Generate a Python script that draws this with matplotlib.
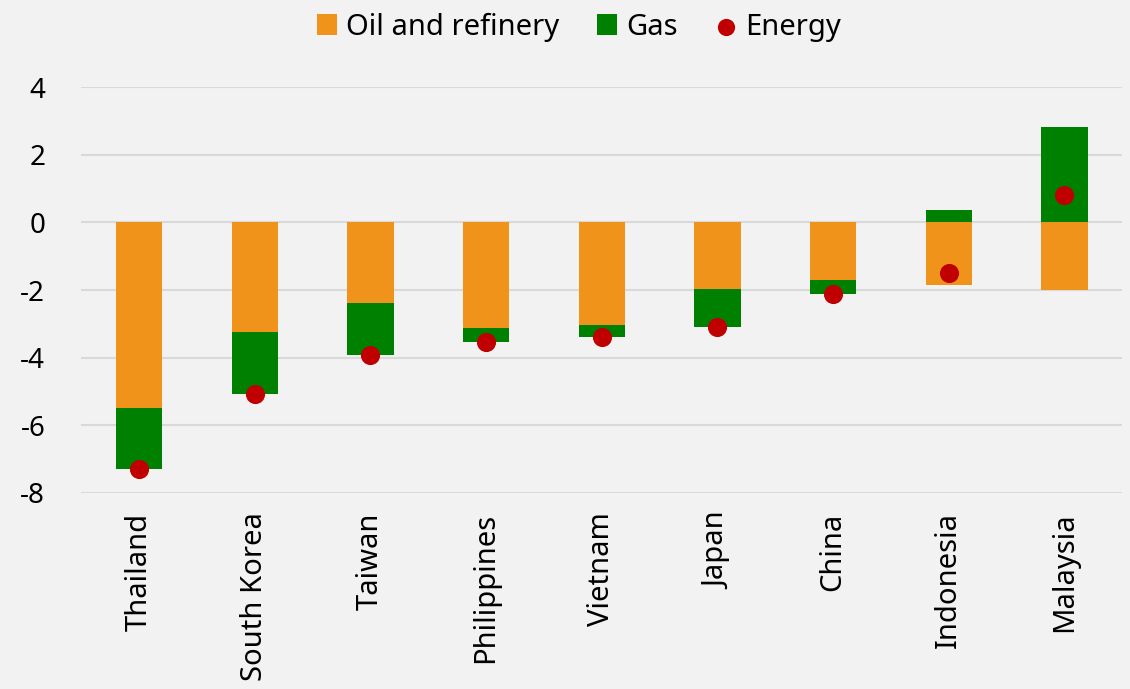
import matplotlib
matplotlib.use("Agg")
import matplotlib.pyplot as plt
import numpy as np

# values
countries = ['Thailand', 'South Korea', 'Taiwan', 'Philippines', 'Vietnam',
             'Japan', 'China', 'Indonesia', 'Malaysia']
oil = [-5.50, -3.25, -2.37, -3.13, -3.02, -1.98, -1.69, -1.85, -2.00]
gas = [-1.78, -1.83, -1.56, -0.42, -0.38, -1.12, -0.44, 0.35, 2.82]
energy = [-7.28, -5.08, -3.93, -3.55, -3.40, -3.10, -2.13, -1.49, 0.82]
yticks = [4, 2, 0, -2, -4, -6, -8]

ORANGE = '#F0931A'
GREEN = '#008000'
RED = '#C00000'
BG = '#F2F2F2'

plt.rcParams['font.family'] = ['Noto Sans', 'DejaVu Sans']

fig = plt.figure(figsize=(11.3, 6.89), dpi=100, facecolor=BG)
ax = fig.add_axes([0.0719, 0.2845, 0.9212, 0.5892], facecolor=BG)

x = np.arange(len(countries))
oil = np.array(oil)
gas = np.array(gas)
# gas stacks on oil when both negative, otherwise starts at zero
gas_base = np.where(gas < 0, oil, 0)

h_oil = ax.bar(x, oil, width=0.4, color=ORANGE, zorder=2)
h_gas = ax.bar(x, gas, width=0.4, bottom=gas_base, color=GREEN, zorder=2)
h_en = ax.scatter(x, energy, s=190, color=RED, zorder=3, linewidths=0)

ax.set_xlim(-0.5, len(countries) - 0.5)
ax.set_ylim(-8, 4)
ax.set_yticks(yticks)
ax.set_yticklabels([str(t) for t in yticks])
ax.yaxis.grid(True, color='#D9D9D9', linewidth=1.5, zorder=0)
ax.set_axisbelow(True)
ax.set_xticks(x)
ax.set_xticklabels(countries, rotation=90, va='top')
ax.tick_params(axis='both', length=0, labelsize=20)
ax.tick_params(axis='x', pad=14, labelsize=21)
ax.tick_params(axis='y', pad=26)
for side in ['top', 'right', 'left', 'bottom']:
    ax.spines[side].set_visible(False)

fig.legend([h_oil, h_gas, h_en], ['Oil and refinery', 'Gas', 'Energy'],
           loc='upper center', bbox_to_anchor=(0.512, 1.02), ncol=3, frameon=False,
           fontsize=21, handlelength=0.7, handleheight=0.7, handletextpad=0.3,
           columnspacing=1.3, markerscale=0.9)

fig.savefig('out.png', dpi=100, facecolor=BG)
